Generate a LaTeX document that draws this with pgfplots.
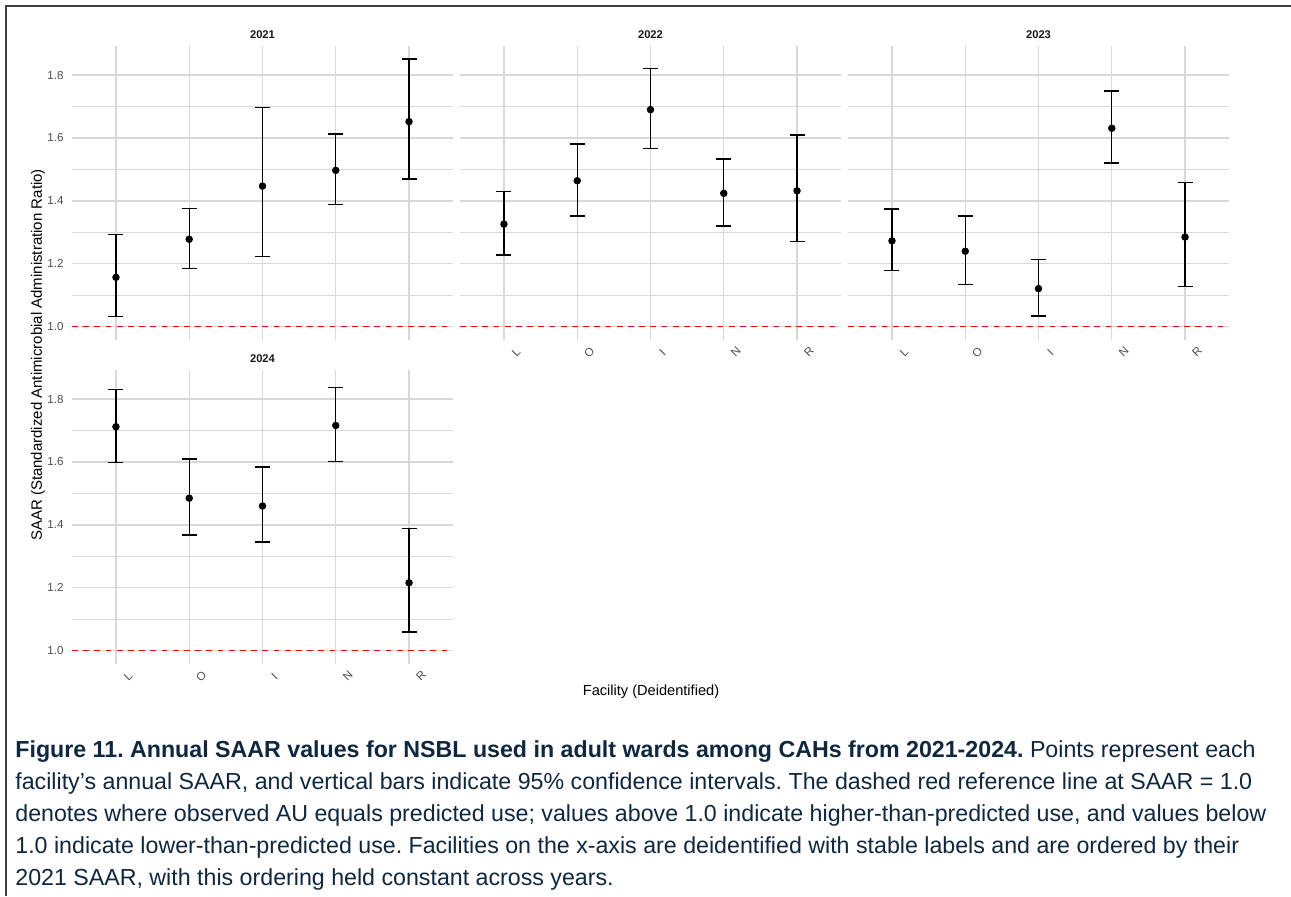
\documentclass[border=0pt]{standalone}
\usepackage{fontspec}
\setmainfont{Liberation Sans}
\usepackage{pgfplots}
\pgfplotsset{compat=1.18}
\usepackage{pgfplotstable}
\definecolor{gridc}{HTML}{D8D8D8}
\definecolor{capc}{HTML}{0E2841}
\definecolor{tickc}{HTML}{4D4D4D}
\definecolor{borderc}{HTML}{404040}

\pgfplotstableread{
x y lo hi
1 1.157 1.032 1.294
2 1.278 1.186 1.376
3 1.447 1.224 1.696
4 1.497 1.388 1.612
5 1.652 1.469 1.851
}\dataA
\pgfplotstableread{
x y lo hi
1 1.326 1.228 1.429
2 1.464 1.352 1.581
3 1.690 1.567 1.821
4 1.424 1.320 1.533
5 1.432 1.270 1.609
}\dataB
\pgfplotstableread{
x y lo hi
1 1.273 1.178 1.374
2 1.240 1.135 1.352
3 1.121 1.034 1.213
4 1.631 1.520 1.749
5 1.285 1.128 1.458
}\dataC
\pgfplotstableread{
x y lo hi
1 1.712 1.598 1.831
2 1.485 1.368 1.609
3 1.460 1.345 1.584
4 1.716 1.602 1.837
5 1.216 1.060 1.388
}\dataD

\pgfplotsset{
  panel/.style={
    anchor=north west,
    width=190.5pt, height=147.25pt, scale only axis,
    xmin=0.4, xmax=5.6, ymin=0.9574, ymax=1.8936,
    xtick={1,2,3,4,5}, xticklabels={L,O,I,N,R},
    ytick={1.0,1.2,1.4,1.6,1.8}, minor ytick={1.1,1.3,1.5,1.7},
    grid=both,
    major grid style={gridc, line width=0.65pt},
    minor grid style={gridc, line width=0.5pt},
    axis line style={draw=none},
    tick style={draw=none},
    major tick length=0pt, minor tick length=0pt,
    /pgf/number format/assume math mode=true,
    /pgf/number format/fixed, /pgf/number format/fixed zerofill,
    /pgf/number format/precision=1,
    tick label style={font=\fontsize{5.8pt}{6pt}\selectfont, text=tickc},
    xticklabel style={rotate=45, anchor=center, inner sep=0pt, yshift=-8.5pt},
    yticklabel style={anchor=east, inner sep=0pt, xshift=-4pt},
    title style={font=\bfseries\fontsize{5.6pt}{6pt}\selectfont, text=black!90,
      anchor=center, at={(0.5,1)}, yshift=-0.35pt, inner sep=0pt},
  },
  refline/.style={red, dashed, line width=0.5pt, dash pattern=on 2.9pt off 2.7pt, forget plot},
  pts/.style={black, only marks, mark=*, mark size=1.65pt,
    error bars/.cd, y dir=both, y explicit,
    error bar style={line width=0.7pt, black},
    error mark options={rotate=90, black, line width=0.7pt, mark size=3.75pt}},
}
\newcommand{\saar}[1]{\addplot[pts] table[x=x, y=y,
  y error plus expr=\thisrow{hi}-\thisrow{y},
  y error minus expr=\thisrow{y}-\thisrow{lo}] {#1};}

\begin{document}
\frenchspacing
\begin{tikzpicture}
\fill[white] (0,0) rectangle (645.5pt,-448pt);
\path[use as bounding box] (0,0) rectangle (645.5pt,-448pt);
\draw[borderc, line width=0.7pt] (2.9pt,-448pt) -- (2.9pt,-2.9pt) -- (645.5pt,-2.9pt);

\begin{axis}[panel, at={(36pt,-22.8pt)}, title={2021}, xticklabels={}]
\addplot[refline] coordinates {(0.4,1) (5.6,1)};
\saar{\dataA}
\end{axis}

\begin{axis}[panel, at={(230pt,-22.8pt)}, title={2022}, yticklabels={}]
\addplot[refline] coordinates {(0.4,1) (5.6,1)};
\saar{\dataB}
\end{axis}

\begin{axis}[panel, at={(424pt,-22.8pt)}, title={2023}, yticklabels={}]
\addplot[refline] coordinates {(0.4,1) (5.6,1)};
\saar{\dataC}
\end{axis}

\begin{axis}[panel, at={(36pt,-184.8pt)}, title={2024}]
\addplot[refline] coordinates {(0.4,1) (5.6,1)};
\saar{\dataD}
\end{axis}

\node[font=\fontsize{7.3pt}{8pt}\selectfont, inner sep=0pt] at (325.5pt,-346pt) {Facility (Deidentified)};
\node[font=\fontsize{7.5pt}{8pt}\selectfont, inner sep=0pt, rotate=90] at (19pt,-177.5pt) {SAAR (Standardized Antimicrobial Administration Ratio)};

\begin{scope}[every node/.style={anchor=base west, inner sep=0pt, text=capc, font=\fontsize{11.6pt}{16pt}\selectfont\frenchspacing}]
\node at (7.5pt,-378.5pt) {\textbf{Figure 11. Annual SAAR values for NSBL used in adult wards among CAHs from 2021-2024.} Points represent each};
\node at (7.5pt,-394.5pt) {facility’s annual SAAR, and vertical bars indicate 95\% confidence intervals. The dashed red reference line at SAAR = 1.0};
\node at (7.5pt,-410.5pt) {denotes where observed AU equals predicted use; values above 1.0 indicate higher-than-predicted use, and values below};
\node at (7.5pt,-426.5pt) {1.0 indicate lower-than-predicted use. Facilities on the x-axis are deidentified with stable labels and are ordered by their};
\node at (7.5pt,-442.5pt) {2021 SAAR, with this ordering held constant across years.};
\end{scope}
\end{tikzpicture}
\end{document}
